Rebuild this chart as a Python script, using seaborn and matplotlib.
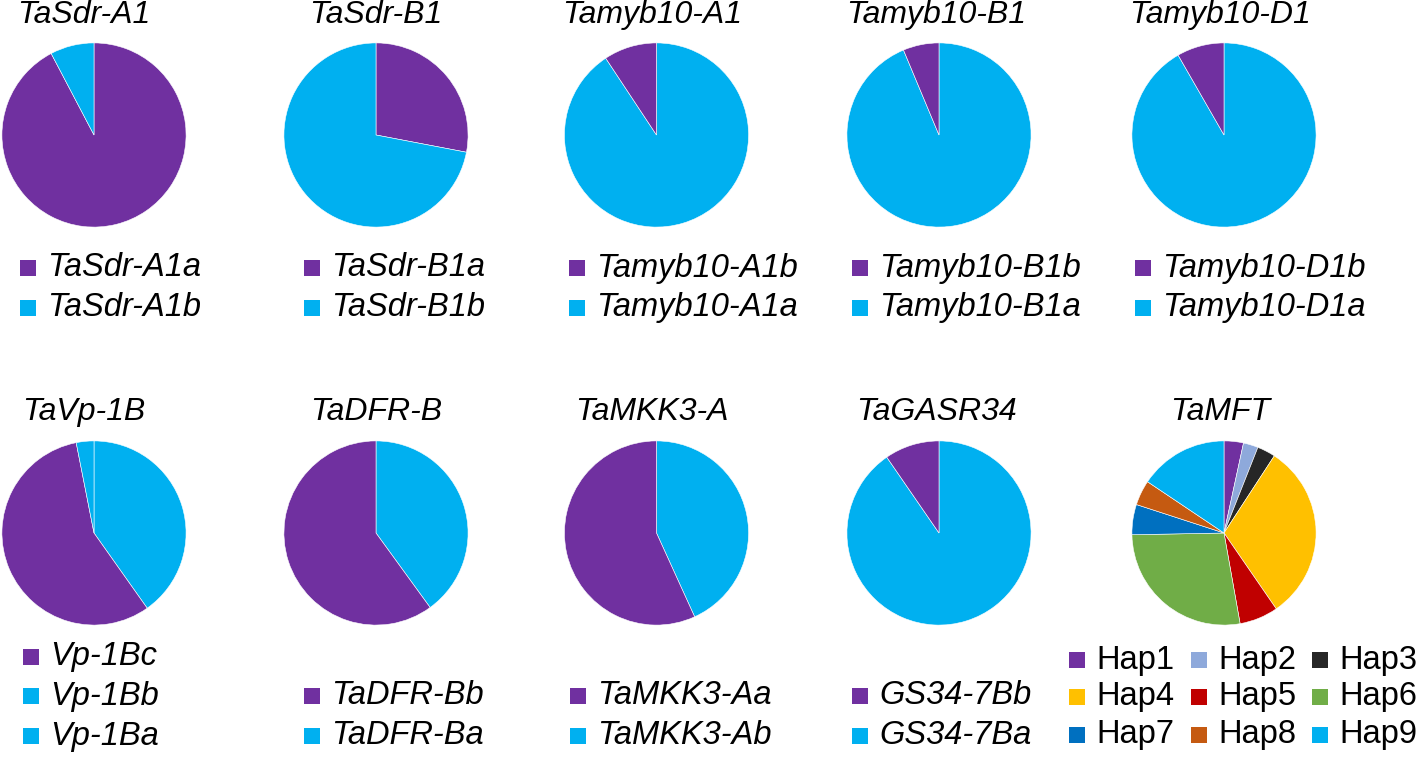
import matplotlib
matplotlib.use("Agg")
import matplotlib.pyplot as plt
import seaborn as sns
from matplotlib.patches import Rectangle

sns.set_theme(style="white")
plt.rcParams["font.family"] = ["Liberation Sans", "DejaVu Sans"]

# colours (Excel-like)
PURPLE = "#7030A0"
CYAN = "#00B0F0"

# pie titles
titles = ["TaSdr-A1", "TaSdr-B1", "Tamyb10-A1", "Tamyb10-B1", "Tamyb10-D1",
          "TaVp-1B", "TaDFR-B", "TaMKK3-A", "TaGASR34", "TaMFT"]

# slice shares (%), clockwise from 12 o'clock
sdr_a1 = [92.3, 7.7]
sdr_b1 = [28.0, 72.0]
myb_a1 = [90.7, 9.3]
myb_b1 = [93.7, 6.3]
myb_d1 = [91.7, 8.3]
vp_1b = [40.2, 56.7, 3.1]
dfr_b = [40.0, 60.0]
mkk3_a = [43.2, 56.8]
gasr34 = [90.4, 9.6]
mft = [3.4, 2.6, 3.2, 31.2, 6.8, 27.5, 5.3, 4.4, 15.6]

slice_colors = [
    [PURPLE, CYAN], [PURPLE, CYAN], [CYAN, PURPLE], [CYAN, PURPLE], [CYAN, PURPLE],
    [CYAN, PURPLE, CYAN], [CYAN, PURPLE], [CYAN, PURPLE], [CYAN, PURPLE],
]
hap_labels = ["Hap1", "Hap2", "Hap3", "Hap4", "Hap5", "Hap6", "Hap7", "Hap8", "Hap9"]
hap_colors = ["#7030A0", "#8EA9DB", "#262626", "#FFC000", "#C00000",
              "#70AD47", "#0070C0", "#C55A11", "#00B0F0"]

# legend entries (as shown under each pie)
legend_labels = [
    ["TaSdr-A1a", "TaSdr-A1b"],
    ["TaSdr-B1a", "TaSdr-B1b"],
    ["Tamyb10-A1b", "Tamyb10-A1a"],
    ["Tamyb10-B1b", "Tamyb10-B1a"],
    ["Tamyb10-D1b", "Tamyb10-D1a"],
    ["Vp-1Bc", "Vp-1Bb", "Vp-1Ba"],
    ["TaDFR-Bb", "TaDFR-Ba"],
    ["TaMKK3-Aa", "TaMKK3-Ab"],
    ["GS34-7Bb", "GS34-7Ba"],
]
legend_colors = [
    [PURPLE, CYAN], [PURPLE, CYAN], [PURPLE, CYAN], [PURPLE, CYAN], [PURPLE, CYAN],
    [PURPLE, CYAN, CYAN], [PURPLE, CYAN], [PURPLE, CYAN], [PURPLE, CYAN],
]

values = [sdr_a1, sdr_b1, myb_a1, myb_b1, myb_d1, vp_1b, dfr_b, mkk3_a, gasr34, mft]

W, H = 1416, 760
fig = plt.figure(figsize=(W / 100, H / 100), dpi=100)

def fx(x):
    return x / W

def fy(y):
    return 1 - y / H

cx = [94, 376, 656.5, 939, 1224]
cy = [135, 533]
R = 93
title_x = [84, 376, 652, 936, 1220]
title_y = [15, 412]
marker_x = [[28, 312, 577, 860, 1143], [31, 312, 578, 860]]

for i, vals in enumerate(values):
    row, col = divmod(i, 5)
    x0, y0 = cx[col], cy[row]
    ax = fig.add_axes([fx(x0 - R), fy(y0 + R), 2 * R / W, 2 * R / H])
    cols = hap_colors if i == 9 else slice_colors[i]
    ax.pie(vals, colors=cols, startangle=90, counterclock=False, radius=1,
           wedgeprops=dict(edgecolor="white", linewidth=0.4))
    ax.set_xlim(-1.01, 1.01)
    ax.set_ylim(-1.01, 1.01)
    ax.set_aspect("equal")
    ax.axis("off")
    fig.text(fx(title_x[col]), fy(title_y[row]), titles[i], ha="center", va="center",
             fontsize=23, style="italic", color="black")

# legends under the pies
def add_entry(x_marker, y, color, label, italic=True):
    s = 16
    fig.add_artist(Rectangle((fx(x_marker - s / 2), fy(y + s / 2)), s / W, s / H,
                             transform=fig.transFigure, facecolor=color, edgecolor="none"))
    fig.text(fx(x_marker + 19), fy(y), label, ha="left", va="center", fontsize=23.5,
             style="italic" if italic else "normal", color="black")

for i, labs in enumerate(legend_labels):
    row, col = divmod(i, 5)
    if row == 0:
        ys = [268, 308]
    else:
        ys = [657, 696, 736] if len(labs) == 3 else [696, 736]
    for lab, c, y in zip(labs, legend_colors[i], ys):
        add_entry(marker_x[row][col], y, c, lab)

# TaMFT haplotype legend, 3 x 3, row-wise
hap_x = [1077, 1199, 1320]
hap_y = [660, 697, 735]
for k, (lab, c) in enumerate(zip(hap_labels, hap_colors)):
    r, cc = divmod(k, 3)
    add_entry(hap_x[cc], hap_y[r], c, lab, italic=False)

fig.savefig("out.png", dpi=100)
